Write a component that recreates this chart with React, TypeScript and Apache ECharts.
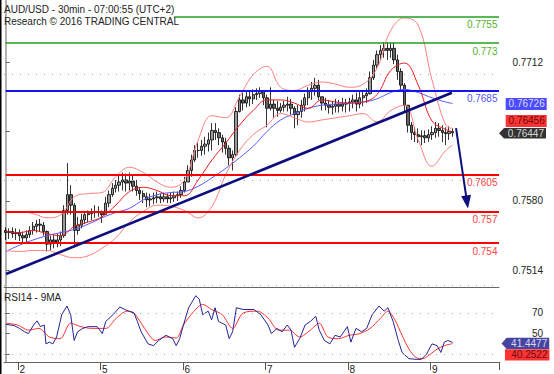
import React, { useEffect, useRef } from 'react';
import * as echarts from 'echarts';

const FONT = '"Liberation Sans", Arial, Helvetica, sans-serif';
const SLOT_COUNT = 144;
const dayLabels = ['2', '5', '6', '7', '8', '9'];
const dayStartSlots = [4, 28, 52, 76, 100, 124];

const titleLine1 = 'AUD/USD - 30min - 07:00:55 (UTC+2)';
const titleLine2 = 'Research \u00a9 2016 TRADING CENTRAL';
const rsiTitle = 'RSI14 - 9MA';

const firstOpen = 0.7552;
const highs = [
  0.7555, 0.7554, 0.7555, 0.7554, 0.7553, 0.7551, 0.7552, 0.7556, 0.7560, 0.7562,
  0.7563, 0.7560, 0.7552, 0.7547, 0.7548, 0.7549, 0.7551, 0.7576, 0.7616, 0.7595,
  0.7578, 0.7565, 0.7568, 0.7570, 0.7571, 0.7573, 0.7576, 0.7575, 0.7571, 0.7584,
  0.7590, 0.7597, 0.7600, 0.7605, 0.7607, 0.7606, 0.7607, 0.7605, 0.7600, 0.7593,
  0.7590, 0.7588, 0.7587, 0.7588, 0.7589, 0.7587, 0.7588, 0.7587, 0.7588, 0.7589,
  0.7589, 0.7594, 0.7603, 0.7614, 0.7624, 0.7633, 0.7635, 0.7638, 0.7641, 0.7645,
  0.7654, 0.7654, 0.7649, 0.7643, 0.7640, 0.7633, 0.7628, 0.7669, 0.7681, 0.7683,
  0.7685, 0.7684, 0.7686, 0.7687, 0.7688, 0.7685, 0.7681, 0.7688, 0.7676, 0.7675,
  0.7673, 0.7675, 0.7679, 0.7677, 0.7670, 0.7671, 0.7676, 0.7682, 0.7688, 0.7693,
  0.7697, 0.7695, 0.7679, 0.7678, 0.7676, 0.7675, 0.7677, 0.7676, 0.7678, 0.7677,
  0.7678, 0.7681, 0.7683, 0.7684, 0.7685, 0.7687, 0.7703, 0.7714, 0.7723, 0.7728,
  0.7731, 0.7731, 0.7730, 0.7731, 0.7719, 0.7706, 0.7692, 0.7671, 0.7655, 0.7650,
  0.7649, 0.7647, 0.7647, 0.7648, 0.7651, 0.7655, 0.7654, 0.7652, 0.7650, 0.7651,
  0.7649,
];
const lows = [
  0.7543, 0.7544, 0.7545, 0.7543, 0.7542, 0.7540, 0.7541, 0.7545, 0.7548, 0.7550,
  0.7551, 0.7547, 0.7532, 0.7533, 0.7535, 0.7536, 0.7537, 0.7545, 0.7567, 0.7567,
  0.7536, 0.7548, 0.7554, 0.7558, 0.7560, 0.7562, 0.7564, 0.7565, 0.7559, 0.7567,
  0.7574, 0.7584, 0.7588, 0.7589, 0.7590, 0.7589, 0.7590, 0.7589, 0.7585, 0.7581,
  0.7578, 0.7574, 0.7575, 0.7577, 0.7578, 0.7578, 0.7579, 0.7578, 0.7578, 0.7579,
  0.7580, 0.7583, 0.7588, 0.7598, 0.7603, 0.7617, 0.7621, 0.7623, 0.7624, 0.7627,
  0.7628, 0.7638, 0.7633, 0.7626, 0.7624, 0.7614, 0.7609, 0.7622, 0.7664, 0.7666,
  0.7669, 0.7670, 0.7672, 0.7676, 0.7678, 0.7671, 0.7650, 0.7666, 0.7659, 0.7660,
  0.7664, 0.7665, 0.7665, 0.7662, 0.7649, 0.7652, 0.7659, 0.7665, 0.7671, 0.7676,
  0.7680, 0.7676, 0.7666, 0.7666, 0.7663, 0.7662, 0.7664, 0.7664, 0.7665, 0.7664,
  0.7665, 0.7668, 0.7665, 0.7668, 0.7670, 0.7673, 0.7681, 0.7695, 0.7706, 0.7714,
  0.7716, 0.7714, 0.7716, 0.7710, 0.7695, 0.7685, 0.7665, 0.7645, 0.7638, 0.7636,
  0.7635, 0.7633, 0.7635, 0.7636, 0.7638, 0.7640, 0.7641, 0.7636, 0.7633, 0.7638,
  0.7641,
];
const closes = [
  0.7550, 0.7551, 0.7549, 0.7550, 0.7547, 0.7545, 0.7548, 0.7552, 0.7556, 0.7558,
  0.7557, 0.7551, 0.7539, 0.7543, 0.7541, 0.7543, 0.7547, 0.7571, 0.7586, 0.7576,
  0.7552, 0.7557, 0.7562, 0.7567, 0.7568, 0.7569, 0.7569, 0.7569, 0.7567, 0.7578,
  0.7586, 0.7592, 0.7595, 0.7598, 0.7600, 0.7597, 0.7599, 0.7594, 0.7590, 0.7587,
  0.7584, 0.7581, 0.7582, 0.7583, 0.7584, 0.7582, 0.7584, 0.7582, 0.7583, 0.7585,
  0.7586, 0.7590, 0.7598, 0.7609, 0.7619, 0.7628, 0.7628, 0.7632, 0.7634, 0.7638,
  0.7647, 0.7645, 0.7640, 0.7636, 0.7630, 0.7621, 0.7624, 0.7665, 0.7676, 0.7673,
  0.7679, 0.7677, 0.7681, 0.7682, 0.7684, 0.7678, 0.7668, 0.7672, 0.7668, 0.7666,
  0.7669, 0.7671, 0.7672, 0.7668, 0.7662, 0.7665, 0.7671, 0.7678, 0.7684, 0.7687,
  0.7690, 0.7679, 0.7673, 0.7671, 0.7669, 0.7670, 0.7672, 0.7670, 0.7672, 0.7673,
  0.7674, 0.7676, 0.7672, 0.7678, 0.7680, 0.7682, 0.7697, 0.7709, 0.7719, 0.7723,
  0.7725, 0.7723, 0.7725, 0.7714, 0.7703, 0.7690, 0.7671, 0.7652, 0.7645, 0.7643,
  0.7641, 0.7642, 0.7640, 0.7643, 0.7645, 0.7649, 0.7647, 0.7645, 0.7644, 0.7646,
  0.76447,
];

const bandSlots = [
  0, 4, 8, 12, 16, 20, 24, 28, 32, 36, 40, 44, 48, 52, 56, 60, 64,
  68, 72, 76, 80, 84, 88, 92, 96, 100, 104, 108, 112, 116, 120, 124, 128, 130,
];
const bbUpper = [
  0.7569, 0.7570, 0.7568, 0.7564, 0.7567, 0.7584, 0.7587, 0.7588, 0.7603, 0.7612, 0.7607, 0.7598, 0.7593, 0.7600, 0.7638, 0.7661, 0.7659,
  0.7679, 0.7700, 0.7708, 0.7688, 0.7685, 0.7690, 0.7693, 0.7691, 0.7688, 0.7691, 0.7706, 0.7742, 0.7754, 0.7747, 0.7695, 0.7652, 0.7649,
];
const bbMiddle = [
  0.7551, 0.7550, 0.7552, 0.7549, 0.7547, 0.7556, 0.7560, 0.7565, 0.7576, 0.7589, 0.7593, 0.7590, 0.7585, 0.7585, 0.7600, 0.7619, 0.7635,
  0.7652, 0.7666, 0.7676, 0.7676, 0.7673, 0.7668, 0.7676, 0.7674, 0.7673, 0.7674, 0.7681, 0.7704, 0.7711, 0.7690, 0.7656, 0.7648, 0.76456,
];
const bbLower = [
  0.7533, 0.7532, 0.7533, 0.7533, 0.7529, 0.7526, 0.7528, 0.7535, 0.7545, 0.7560, 0.7570, 0.7576, 0.7575, 0.7571, 0.7564, 0.7575, 0.7605,
  0.7628, 0.7643, 0.7652, 0.7663, 0.7659, 0.7655, 0.7657, 0.7659, 0.7661, 0.7663, 0.7655, 0.7666, 0.7671, 0.7638, 0.7613, 0.7628, 0.7633,
];
const maBlue = [
  0.7532, 0.7538, 0.7543, 0.7547, 0.7550, 0.7553, 0.7558, 0.7564, 0.7569, 0.7573, 0.7581, 0.7586, 0.7588, 0.7589, 0.7594, 0.7602, 0.7611,
  0.7621, 0.7632, 0.7646, 0.7657, 0.7663, 0.7668, 0.7671, 0.7672, 0.7673, 0.7674, 0.7677, 0.7683, 0.7686, 0.7683, 0.7678, 0.7674, 0.76726,
];

const levelValues = [0.7755, 0.773, 0.7685, 0.7605, 0.757, 0.754];
const levelTexts = ['0.7755', '0.773', '0.7685', '0.7605', '0.757', '0.754'];
const levelStartSlots = [49, 0, 0, 0, 0, 0];
const levelKinds = ['green', 'green', 'blue', 'red', 'red', 'red'];

const trendSlots = [0.1, 129.8];
const trendValues = [0.75106, 0.76828];
const arrowSlots = [131.0, 134.2];
const arrowValues = [0.76493, 0.7579];

// price grid levels; the 0.7646 label sits under the value boxes, as in the reference
const priceTicks = [0.7514, 0.758, 0.7646, 0.7712];
const priceLabelTicks = [0.7514, 0.758, 0.7712];
const rsiTicks = [30, 50, 70];
const rsiLabelTicks = [50, 70];
const rsiGridLines = [30, 70];

const rsiSlots = [
  0, 2.5, 4, 5.5, 6.6, 8.1, 9.1, 10.1, 11.2, 11.7, 12.7, 13.7, 14.8, 16.3, 17.8, 18.9, 19.9, 20.9, 22.4, 24,
  26.6, 28.1, 29.1, 31.2, 33.2, 35.3, 37.3, 38.3, 39.4, 41.4, 43, 44.5, 46.6, 48.6, 49.6, 50.6, 51.7, 53.2, 55.3, 56.3,
  57.3, 58.9, 59.9, 60.9, 61.9, 64, 65, 66, 67.1, 69.1, 72.2, 74.2, 76.3, 77.3, 78.9, 80.4, 81.9, 83, 84, 85.5,
  87.1, 88.6, 90.2, 91.2, 92.7, 94.3, 95.8, 97.3, 99.4, 100.4, 101.9, 103.5, 105, 106.6, 108.6, 110.1, 111.2, 112.7, 114.2, 115.3,
  117.3, 119.4, 120.9, 122.4, 124, 125.5, 126.6, 127.6, 128.6, 130,
];
const rsiValues = [
  59, 57.7, 55, 51.7, 50, 58.3, 62.3, 56.7, 58.3, 40, 41.7, 40, 46.7, 68.3, 76.7, 68.3, 43.3, 51.7, 55, 56.7,
  56.7, 50, 61.7, 68.3, 75.7, 72.3, 70, 61.7, 51.7, 40, 38.3, 43.3, 48.3, 45, 38.3, 45, 58.3, 75, 86.7, 83.3,
  68.3, 71.7, 63.3, 75, 61.7, 58.3, 45, 51.7, 75, 73.3, 73.3, 68.3, 58.3, 50, 55, 51.7, 58.3, 53.3, 36.7, 45,
  58.3, 61.7, 66.7, 53.3, 43.3, 40, 48.3, 46.7, 56.7, 41.7, 55, 51.7, 55, 68.3, 76.7, 71.7, 75, 61.7, 43.3, 31.7,
  25.7, 25, 25, 30, 40, 38.3, 31.7, 41.7, 43.3, 41.4477,
];
const rsiMaSlots = [
  0.2, 3.5, 6.6, 9.6, 12.7, 15.8, 18.9, 21.9, 25, 29.1, 32.2, 35.3, 37.3, 40.4, 43.5, 46.6, 49.6, 51.7, 54.8, 57.3,
  59.9, 63, 66, 69.1, 73.2, 76.3, 79.4, 82.5, 85.5, 88.6, 91.2, 93.7, 96.8, 99.9, 103, 106, 109.1, 111.2, 113.2, 115.3,
  117.3, 119.4, 121.4, 123.5, 125.5, 127.6, 130,
];
const rsiMaValues = [
  60, 58.3, 53.3, 55, 46.7, 45, 60, 56.7, 55, 55, 65, 71.7, 70, 55, 43.3, 46.7, 45.7, 58.3, 71.7, 78.3,
  73.3, 68.3, 55, 70, 71.7, 65, 53.3, 53.3, 46.7, 53.3, 60, 46.7, 45, 48.3, 50, 55, 65, 71.7, 63.3, 48.3,
  35, 26.7, 25.7, 30, 35, 38.3, 40.2522,
];

const lastClose = 0.76447;
const lastMa = 0.76726;
const lastMid = 0.76456;
const lastRsi = 41.4477;
const lastRsiMa = 40.2522;

const levelColors: Record<string, { line: string; text: string; width: number }> = {
  green: { line: '#23a023', text: '#52b22c', width: 1.6 },
  blue: { line: '#1414f0', text: '#5555ff', width: 2.2 },
  red: { line: '#ff0000', text: '#ff4444', width: 2.2 },
};

const pairs = (xs: number[], ys: number[]) => xs.map((x, i) => [x, ys[i]]);

export default function App() {
  const ref = useRef<HTMLDivElement>(null);
  useEffect(() => {
    if (!ref.current) return;
    const chart = echarts.init(ref.current, undefined, { renderer: 'svg' });
    const categories = Array.from({ length: SLOT_COUNT }, (_, i) => 'h' + i);
    const candleData = closes.map((c, i) => [i === 0 ? firstOpen : closes[i - 1], c, lows[i], highs[i]]);
    const isDay = (i: number) => dayStartSlots.indexOf(i) >= 0;
    const txt = { fontFamily: FONT, fontSize: 10, color: '#222' };

    const bandLine = (name: string, data: number[], color: string, width: number, z: number) => ({
      name, type: 'line', xAxisIndex: 1, yAxisIndex: 0, data: pairs(bandSlots, data),
      smooth: 0.4, symbol: 'none', lineStyle: { color, width }, z, silent: true,
    });

    const boxPoint = (
      xAxisIndex: number, yAxisIndex: number, value: number, text: string,
      bg: string, fg: string, w: number, h: number, offX: number, offY: number, arrow: boolean, z: number,
    ) => ({
      type: 'scatter', xAxisIndex, yAxisIndex, clip: false, z, silent: true,
      data: [[143.5, value]],
      symbol: arrow ? 'path://M0,5L5,0L47,0L47,10L5,10Z' : 'rect',
      symbolKeepAspect: false,
      symbolSize: [w, h], symbolOffset: [offX, offY],
      itemStyle: { color: bg },
      label: {
        show: true, position: 'insideRight', distance: 2, formatter: text,
        color: fg, fontSize: 10, fontFamily: FONT,
      },
    });

    const option: any = {
      animation: false,
      backgroundColor: '#ffffff',
      textStyle: { fontFamily: FONT },
      title: [
        {
          text: titleLine1, subtext: titleLine2, left: 4, top: 3, padding: 0, itemGap: 0,
          textStyle: { ...txt, fontWeight: 'normal', lineHeight: 12 },
          subtextStyle: { ...txt, lineHeight: 12 },
        },
        { text: rsiTitle, left: 4, top: 292, padding: 0, textStyle: { ...txt, fontWeight: 'normal' } },
      ],
      graphic: [
        { type: 'rect', left: 0, top: 0, shape: { width: 1.5, height: 374 }, style: { fill: '#000' }, z: 100 },
      ],
      grid: [
        { left: 4, right: 55, top: 0, height: 287 },
        { left: 4, right: 55, top: 288, height: 76 },
      ],
      xAxis: [
        {
          type: 'category', gridIndex: 0, data: categories, boundaryGap: true,
          axisLine: { lineStyle: { color: '#666', width: 1 } }, axisTick: { show: false },
          axisLabel: { show: false }, splitLine: { show: false },
        },
        { type: 'value', gridIndex: 0, min: -0.5, max: 143.5, show: false },
        {
          type: 'category', gridIndex: 1, data: categories, boundaryGap: true,
          axisLine: { lineStyle: { color: '#666', width: 1 } },
          axisTick: { show: true, length: 8, interval: (i: number) => isDay(i), lineStyle: { color: '#555' } },
          axisLabel: {
            interval: (i: number) => isDay(i), align: 'left', margin: 2, ...txt,
            formatter: (_v: string, i: number) => dayLabels[dayStartSlots.indexOf(i)] ?? '',
          },
          splitLine: { show: false },
        },
        { type: 'value', gridIndex: 1, min: -0.5, max: 143.5, show: false },
      ],
      yAxis: [
        {
          type: 'value', gridIndex: 0, position: 'right', min: 0.74983, max: 0.77709, scale: true,
          axisLine: { show: true, lineStyle: { color: '#999', width: 1.5 } },
          axisTick: { show: true, length: 4, customValues: priceTicks, lineStyle: { color: '#666' } },
          axisLabel: {
            customValues: priceLabelTicks, formatter: (v: number) => v.toFixed(4),
            align: 'right', margin: 44, ...txt,
          },
          splitLine: { show: false },
        },
        {
          type: 'value', gridIndex: 1, position: 'right', min: 22.45, max: 94.15, scale: true,
          axisLine: { show: true, lineStyle: { color: '#999', width: 1.5 } },
          axisTick: { show: true, length: 4, customValues: rsiTicks, lineStyle: { color: '#666' } },
          axisLabel: {
            customValues: rsiLabelTicks, formatter: (v: number) => String(v),
            align: 'right', margin: 44, ...txt,
          },
          splitLine: { show: false },
        },
      ],
      series: [
        {
          name: 'gridlines', type: 'line', xAxisIndex: 1, yAxisIndex: 0, data: [], z: 1, silent: true,
          markLine: {
            silent: true, symbol: ['none', 'none'], label: { show: false },
            lineStyle: { type: [1, 7], color: '#a8a8a8', width: 1 },
            data: priceTicks.map((v) => ({ yAxis: v })),
          },
        },
        {
          name: 'rsigrid', type: 'line', xAxisIndex: 3, yAxisIndex: 1, data: [], z: 1, silent: true,
          markLine: {
            silent: true, symbol: ['none', 'none'], label: { show: false },
            lineStyle: { type: [1, 7], color: '#a8a8a8', width: 1 },
            data: rsiGridLines.map((v) => ({ yAxis: v })),
          },
        },
        bandLine('maBlue', maBlue, '#5a5aff', 1, 3),
        bandLine('bbUpper', bbUpper, '#ff8080', 1, 3),
        bandLine('bbLower', bbLower, '#ff8080', 1, 3),
        bandLine('bbMiddle', bbMiddle, '#ee1c1c', 1, 3),
        {
          name: 'price', type: 'candlestick', xAxisIndex: 0, yAxisIndex: 0, data: candleData,
          barWidth: 2.9, z: 2, silent: true,
          itemStyle: { color: '#9a9a9a', color0: '#666666', borderColor: '#000', borderColor0: '#000', borderWidth: 0.8 },
        },
        {
          name: 'levels', type: 'line', xAxisIndex: 1, yAxisIndex: 0, data: [], z: 4, silent: true,
          markLine: {
            silent: true, symbol: ['none', 'none'],
            data: levelValues.map((v, i) => {
              const c = levelColors[levelKinds[i]];
              return [
                { coord: [levelStartSlots[i], v], lineStyle: { color: c.line, width: c.width, type: 'solid' } },
                {
                  coord: [143.5, v],
                  label: {
                    show: true, position: 'insideEndBottom', formatter: levelTexts[i], distance: [1.5, 3],
                    color: c.text, fontSize: 10, fontFamily: FONT,
                  },
                },
              ];
            }),
          },
        },
        {
          name: 'trend', type: 'line', xAxisIndex: 1, yAxisIndex: 0, data: pairs(trendSlots, trendValues),
          symbol: 'none', lineStyle: { color: '#0d0d7e', width: 2.6 }, z: 5, silent: true,
          markLine: {
            silent: true, symbol: ['none', 'triangle'], symbolSize: [10, 13], label: { show: false },
            lineStyle: { color: '#0d0d7e', width: 2, type: 'solid' },
            data: [[{ coord: [arrowSlots[0], arrowValues[0]] }, { coord: [arrowSlots[1], arrowValues[1]] }]],
          },
        },
        {
          name: 'rsi', type: 'line', xAxisIndex: 3, yAxisIndex: 1, data: pairs(rsiSlots, rsiValues),
          symbol: 'none', lineStyle: { color: '#24249a', width: 1 }, z: 4, silent: true,
        },
        {
          name: 'rsiMa', type: 'line', xAxisIndex: 3, yAxisIndex: 1, data: pairs(rsiMaSlots, rsiMaValues),
          smooth: 0.3, symbol: 'none', lineStyle: { color: '#ff3030', width: 1 }, z: 3, silent: true,
        },
        boxPoint(1, 0, lastMa, '0.76726', '#1e1eff', '#ffffff', 41, 12, 27.2, 0.5, false, 10),
        boxPoint(1, 0, lastMid, '0.76456', '#ff0000', '#3a0000', 41, 12, 27.2, -11, false, 10),
        boxPoint(1, 0, lastClose, '0.76447', '#000000', '#ffffff', 47, 10.5, 23.5, 0.3, true, 11),
        boxPoint(3, 1, lastRsi, '41.4477', '#16168a', '#ffffff', 47.7, 11.3, 26.4, 1, true, 11),
        boxPoint(3, 1, lastRsiMa, '40.2522', '#ff0000', '#3a0000', 44.5, 11.3, 28.2, 11.2, false, 10),
      ],
    };
    chart.setOption(option);
    return () => chart.dispose();
  }, []);
  return <div ref={ref} style={{ position: 'fixed', left: 0, top: 0, width: 554, height: 374 }} />;
}
